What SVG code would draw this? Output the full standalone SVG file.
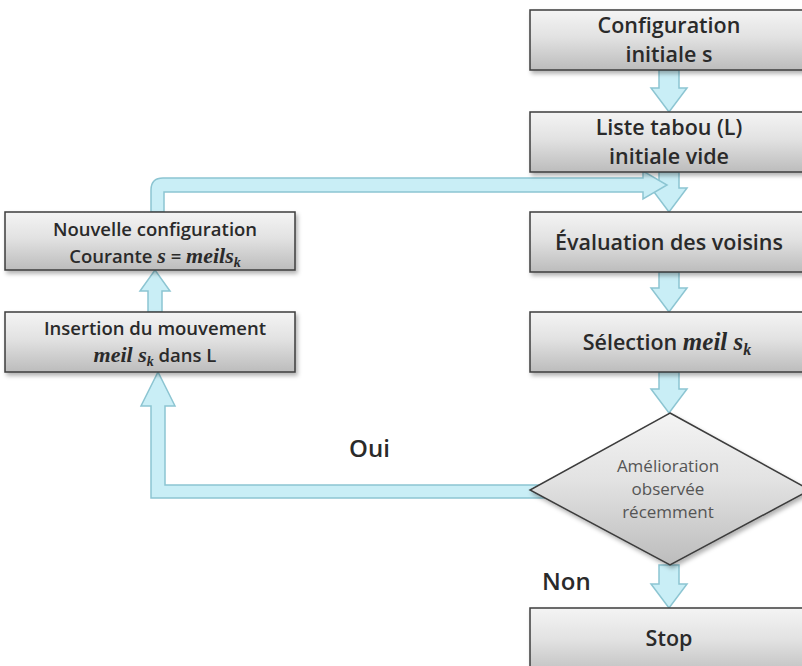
<svg xmlns="http://www.w3.org/2000/svg" width="802" height="666" viewBox="0 0 802 666">
  <defs>
    <linearGradient id="boxFill" x1="0" y1="0" x2="0" y2="1">
      <stop offset="0" stop-color="#f4f4f4"/>
      <stop offset="0.45" stop-color="#e2e2e2"/>
      <stop offset="1" stop-color="#bcbcbc"/>
    </linearGradient>
    <filter id="shadow" x="-5%" y="-10%" width="115%" height="130%">
      <feDropShadow dx="2" dy="3" stdDeviation="2" flood-color="#000" flood-opacity="0.3"/>
    </filter>
    <style>
      .box { fill: url(#boxFill); stroke: #3c3c3c; stroke-width: 1.5; filter: url(#shadow); }
      .arrow { fill: #c9eef6; stroke: #8cc5d2; stroke-width: 1.5; stroke-linejoin: miter; }
      .lbl { font-family: "Open Sans", "Noto Sans", sans-serif; font-weight: 600; fill: #2a2a2a; text-anchor: middle; }
      .big { font-size: 21.5px; }
      .small { font-size: 18.5px; }
      .dia { font-family: "Open Sans", "Noto Sans", sans-serif; font-size: 17px; fill: #555; text-anchor: middle; }
      .math { font-family: "Liberation Serif", "DejaVu Serif", serif; font-style: italic; font-weight: 600; }
      .tag { font-family: "Open Sans", "Noto Sans", sans-serif; font-size: 24px; font-weight: 600; fill: #2a2a2a; }
    </style>
  </defs>

  <rect width="802" height="666" fill="#ffffff"/>

  <!-- connectors -->
  <g id="connectors">
    <path class="arrow" d="M659,70 H679 V88 H687 L669,112 L651,88 H659 Z"/>
    <path class="arrow" d="M659,172 H679 V188 H687 L669,212 L651,188 H659 Z"/>
    <path class="arrow" d="M659,272 H679 V288 H687 L669,312 L651,288 H659 Z"/>
    <path class="arrow" d="M659,372 H679 V389 H687 L669,413 L651,389 H659 Z"/>
    <path class="arrow" d="M659,565 H679 V584 H687 L669,608 L651,584 H659 Z"/>
    <!-- Insertion -> Nouvelle configuration -->
    <path class="arrow" d="M148,312 V291 H140 L155,270 L170,291 H162 V312 Z"/>
    <!-- Oui branch back to the insertion box -->
    <path class="arrow" d="M545,485 H165 V406 H175 L158,372 L141,406 H151 V498 H545 Z"/>
    <!-- new current configuration back into the loop -->
    <path class="arrow" d="M151,212 V190 Q151,178 163,178 H643 V171 L667,185 L643,199 V192 H164 V212 Z"/>
  </g>

  <g id="n-config">
    <rect class="box" x="530" y="10" width="280" height="60"/>
    <text class="lbl big" x="669" y="33">Configuration</text>
    <text class="lbl big" x="669" y="62">initiale s</text>
  </g>

  <g id="n-tabou">
    <rect class="box" x="530" y="112" width="280" height="60"/>
    <text class="lbl big" x="669" y="135">Liste tabou (L)</text>
    <text class="lbl big" x="669" y="164">initiale vide</text>
  </g>

  <g id="n-eval">
    <rect class="box" x="530" y="212" width="280" height="60"/>
    <text class="lbl big" x="669" y="250">Évaluation des voisins</text>
  </g>

  <g id="n-select">
    <rect class="box" x="530" y="312" width="280" height="60"/>
    <text class="lbl big" x="667" y="350">Sélection <tspan class="math" font-size="25">meil s</tspan><tspan class="math" font-size="16" dy="5">k</tspan></text>
  </g>

  <g id="n-decision">
    <polygon class="box" points="670,413 810,490 670,565 530,490"/>
    <text class="dia" x="668" y="472">Amélioration</text>
    <text class="dia" x="668" y="495">observée</text>
    <text class="dia" x="668" y="518">récemment</text>
  </g>

  <g id="n-stop">
    <rect class="box" x="530" y="608" width="280" height="70"/>
    <text class="lbl big" x="669" y="646">Stop</text>
  </g>

  <g id="n-nouvelle">
    <rect class="box" x="5" y="212" width="290" height="58"/>
    <text class="lbl small" x="155" y="236">Nouvelle configuration</text>
    <text class="lbl small" x="155" y="263">Courante <tspan class="math" font-size="22">s</tspan> = <tspan class="math" font-size="22">meils</tspan><tspan class="math" font-size="14" dy="4">k</tspan></text>
  </g>

  <g id="n-insertion">
    <rect class="box" x="5" y="312" width="290" height="60"/>
    <text class="lbl small" x="155" y="335">Insertion du mouvement</text>
    <text class="lbl small" x="155" y="362"><tspan class="math" font-size="22">meil s</tspan><tspan class="math" font-size="14" dy="4">k</tspan><tspan dy="-4"> dans L</tspan></text>
  </g>

  <text class="tag" x="349" y="457">Oui</text>
  <text class="tag" x="542" y="590">Non</text>
</svg>
